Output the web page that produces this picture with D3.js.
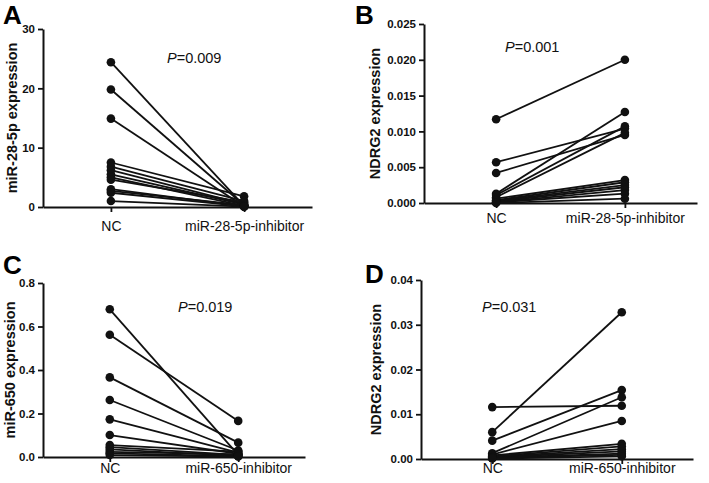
<!DOCTYPE html>
<html>
<head>
<meta charset="utf-8">
<script src="https://cdn.jsdelivr.net/npm/d3@7"></script>
<style>
  body { margin: 0; background: #fff; }
  svg { display: block; font-family: Arial, "Liberation Sans", sans-serif; }
</style>
</head>
<body>
<div class="chart"></div>
<script>
// data
var groupsA = ["NC", "miR-28-5p-inhibitor"];
var groupsC = ["NC", "miR-650-inhibitor"];

var ncA  = [24.4, 19.8, 14.9, 7.5, 6.8, 6.2, 5.5, 5.0, 4.6, 3.0, 2.7, 2.4, 1.0];
var inhA = [0.2, 0.3, 0.1, 1.8, 1.0, 0.5, 0.4, 0.2, 0.8, 0.1, 0.3, 0.1, 0.05];

var ncB  = [0.0117, 0.0057, 0.0042, 0.0013, 0.0011, 0.0008, 0.0006, 0.0004, 0.0003, 0.0002, 0.0001, 0.0001, 0.0000];
var inhB = [0.0200, 0.0104, 0.0095, 0.0127, 0.0107, 0.0098, 0.0032, 0.0029, 0.0025, 0.0022, 0.0018, 0.0013, 0.0006];

var ncC  = [0.679, 0.562, 0.366, 0.262, 0.173, 0.101, 0.055, 0.045, 0.035, 0.024, 0.017, 0.009];
var inhC = [0.010, 0.166, 0.066, 0.030, 0.020, 0.015, 0.025, 0.010, 0.005, 0.012, 0.004, 0.002];

var ncD  = [0.0116, 0.0060, 0.0041, 0.0013, 0.0010, 0.0008, 0.0006, 0.0005, 0.0004, 0.0003, 0.0002, 0.0001];
var inhD = [0.0119, 0.0328, 0.0154, 0.0138, 0.0085, 0.0034, 0.0028, 0.0022, 0.0017, 0.0012, 0.0009, 0.0006];

var ticksA = [0, 10, 20, 30];
var ticksB = [0, 0.005, 0.010, 0.015, 0.020, 0.025];
var ticksC = [0, 0.2, 0.4, 0.6, 0.8];
var ticksD = [0, 0.01, 0.02, 0.03, 0.04];

var pvals = ["=0.009", "=0.001", "=0.019", "=0.031"];

var svg = d3.select(".chart").append("svg")
    .attr("width", 709)
    .attr("height", 483);

var panels = [
  {letter: "A", lx: 3,   ly: 24,  x0: 43,  x1: 312, y0: 207, y1: 29,  pad: 0.51, nc: ncA, inh: inhA, ticks: ticksA, fmt: "d",   groups: groupsA, ylab: "miR-28-5p expression", labx: 12,  catdy: 24, px: 167, py: 63,  p: pvals[0]},
  {letter: "B", lx: 355, ly: 24,  x0: 424, x1: 697, y0: 203, y1: 24,  pad: 0.56, nc: ncB, inh: inhB, ticks: ticksB, fmt: ".3f", groups: groupsA, ylab: "NDRG2 expression",     labx: 375, catdy: 20, px: 505, py: 52,  p: pvals[1]},
  {letter: "C", lx: 3,   ly: 274, x0: 43,  x1: 305, y0: 457, y1: 283, pad: 0.52, nc: ncC, inh: inhC, ticks: ticksC, fmt: ".1f", groups: groupsC, ylab: "miR-650 expression",   labx: 10,  catdy: 16, px: 178, py: 312, p: pvals[2]},
  {letter: "D", lx: 365, ly: 283, x0: 421, x1: 693, y0: 459, y1: 280, pad: 0.55, nc: ncD, inh: inhD, ticks: ticksD, fmt: ".2f", groups: groupsC, ylab: "NDRG2 expression",     labx: 376, catdy: 14, px: 482, py: 312, p: pvals[3]}
];

panels.forEach(function(p) {
  var g = svg.append("g");

  var x = d3.scalePoint()
      .domain(p.groups)
      .range([p.x0, p.x1])
      .padding(p.pad);

  var y = d3.scaleLinear()
      .domain([0, p.ticks[p.ticks.length - 1]])
      .range([p.y0, p.y1]);

  // y axis
  var ya = g.append("g")
      .attr("transform", "translate(" + p.x0 + ",0)")
      .call(d3.axisLeft(y).tickValues(p.ticks).tickFormat(d3.format(p.fmt)).tickSize(5).tickPadding(3).tickSizeOuter(0));
  ya.select(".domain").attr("stroke", "#111").attr("stroke-width", 2);
  ya.selectAll(".tick line").attr("stroke", "#111").attr("stroke-width", 1.8);
  ya.selectAll(".tick text")
      .attr("fill", "#111")
      .style("font-size", "11.5px")
      .style("font-weight", "bold");

  // x axis
  var xa = g.append("g")
      .attr("transform", "translate(0," + p.y0 + ")")
      .call(d3.axisBottom(x).tickSize(5).tickSizeOuter(0));
  xa.select(".domain").attr("stroke", "#111").attr("stroke-width", 2);
  xa.selectAll(".tick line").attr("stroke", "#111").attr("stroke-width", 1.8);
  xa.selectAll(".tick text")
      .attr("fill", "#111")
      .attr("dy", null)
      .attr("y", p.catdy)
      .style("font-size", "14px");

  // paired lines
  var pairs = p.nc.map(function(v, i) { return [v, p.inh[i]]; });

  g.selectAll(".pair")
      .data(pairs)
    .enter()
      .append("line")
        .attr("x1", x(p.groups[0]))
        .attr("x2", x(p.groups[1]))
        .attr("y1", function(d) { return y(d[0]); })
        .attr("y2", function(d) { return y(d[1]); })
        .attr("stroke", "#111")
        .attr("stroke-width", 1.8);

  g.selectAll(".dotnc")
      .data(p.nc)
    .enter()
      .append("circle")
        .attr("cx", x(p.groups[0]))
        .attr("cy", function(d) { return y(d); })
        .attr("r", 4.3)
        .attr("fill", "#111");

  g.selectAll(".dotinh")
      .data(p.inh)
    .enter()
      .append("circle")
        .attr("cx", x(p.groups[1]))
        .attr("cy", function(d) { return y(d); })
        .attr("r", 4.3)
        .attr("fill", "#111");

  // y label
  g.append("text")
      .attr("transform", "translate(" + (p.labx + 5) + "," + ((p.y0 + p.y1) / 2) + ") rotate(-90)")
      .style("text-anchor", "middle")
      .style("font-size", "14.5px")
      .style("font-weight", "bold")
      .attr("fill", "#111")
      .text(p.ylab);

  // p value
  var pt = g.append("text")
      .attr("x", p.px)
      .attr("y", p.py)
      .style("font-size", "14.5px")
      .attr("fill", "#111");
  pt.append("tspan").style("font-style", "italic").text("P");
  pt.append("tspan").text(p.p);

  // panel letter
  g.append("text")
      .attr("x", p.lx)
      .attr("y", p.ly)
      .style("font-size", "26px")
      .style("font-weight", "bold")
      .attr("fill", "#000")
      .text(p.letter);
});
</script>
</body>
</html>
